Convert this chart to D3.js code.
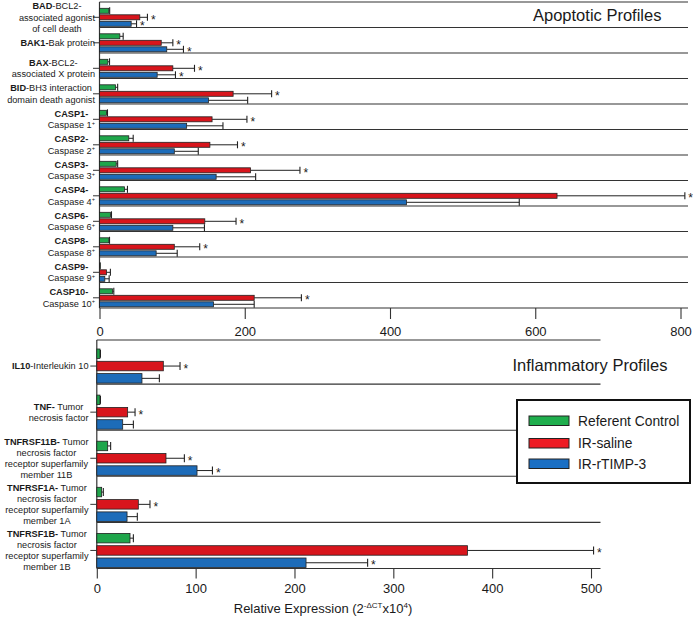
<!DOCTYPE html>
<html>
<head>
<meta charset="utf-8">
<script src="https://cdn.jsdelivr.net/npm/d3@7"></script>
<style>
  html, body { margin: 0; padding: 0; background: #fff; }
  svg { display: block; font-family: "Liberation Sans", Arial, sans-serif; }
</style>
</head>
<body>
<svg id="chart" width="693" height="617"></svg>
<script>
// ---------------- DATA ----------------
const seriesNames = ["Referent Control", "IR-saline", "IR-rTIMP-3"];

// Apoptotic profiles (label lines: "bold|normal", "^" marks superscript +)
const apopLabels = [
  ["BAD|-BCL2-", "|associated agonist", "|of cell death"],
  ["BAK1-|Bak protein"],
  ["BAX|-BCL2-", "|associated X protein"],
  ["BID|-BH3 interaction", "|domain death agonist"],
  ["CASP1-|", "|Caspase 1^"],
  ["CASP2-|", "|Caspase 2^"],
  ["CASP3-|", "|Caspase 3^"],
  ["CASP4-|", "|Caspase 4^"],
  ["CASP6-|", "|Caspase 6^"],
  ["CASP8-|", "|Caspase 8^"],
  ["CASP9-|", "|Caspase 9^"],
  ["CASP10-|", "|Caspase 10^"]
];
const apopControl    = [12.8, 28, 11.5, 22, 9.6, 40.3, 23, 34.4, 15, 12.8, 0.5, 17.9];
const apopControlErr = [1.2, 4.6, 2.3, 3, 1.4, 6.1, 2, 4.1, 1.5, 1, 0.3, 1.8];
const apopSaline     = [55.5, 85, 101, 184, 155, 152, 208, 630, 145, 103, 9.6, 213];
const apopSalineErr  = [10.5, 16, 29.8, 53, 48, 38, 68, 176, 43, 35, 5.4, 65];
const apopTimp       = [43.6, 92.6, 79.4, 150, 120, 103, 160.6, 422.6, 101, 78, 7.3, 157];
const apopTimpErr    = [7.4, 23, 25.2, 54, 50, 33, 54.4, 155.4, 43.5, 29, 6, 56];
const apopSalineSig  = [1, 1, 1, 1, 1, 1, 1, 1, 1, 1, 0, 1];
const apopTimpSig    = [1, 1, 1, 0, 0, 0, 0, 0, 0, 0, 0, 0];
const apopTicks      = [0, 200, 400, 600, 800];

// Inflammatory profiles
const inflLabels = [
  ["IL10|-Interleukin 10"],
  ["TNF-| Tumor", "|necrosis factor"],
  ["TNFRSF11B-| Tumor", "|necrosis factor", "|receptor superfamily", "|member 11B"],
  ["TNFRSF1A-| Tumor", "|necrosis factor", "|receptor superfamily", "|member 1A"],
  ["TNFRSF1B-| Tumor", "|necrosis factor", "|receptor superfamily", "|member 1B"]
];
const inflControl    = [3.2, 3.2, 11, 4.9, 33.6];
const inflControlErr = [0.5, 0.5, 3, 1.7, 3.4];
const inflSaline     = [67.3, 31.2, 70, 42, 375];
const inflSalineErr  = [16.9, 7.5, 18.6, 11.8, 127.6];
const inflTimp       = [45.7, 26.2, 101.4, 30.6, 211.7];
const inflTimpErr    = [17.6, 10.8, 15.6, 10.4, 62.3];
const inflSalineSig  = [1, 1, 1, 1, 1];
const inflTimpSig    = [0, 0, 1, 0, 1];
const inflTicks      = [0, 100, 200, 300, 400, 500];

// ---------------- STYLE ----------------
const barColors    = ["#1fa64b", "#d8151c", "#1d6cb9"];
const legendColors = ["#1fae4d", "#ee1c24", "#1a6fc4"];
const textColor = "#1a1a1a";
const lineColor = "#333";

const svg = d3.select("#chart");

function drawPanel(cfg) {
  const n = cfg.labels.length;
  const x = d3.scaleLinear().domain(cfg.domain).range(cfg.xRange);
  const y = d3.scaleBand().domain(d3.range(n)).range(cfg.yRange).paddingInner(0).paddingOuter(0);
  const g = svg.append("g");
  const x0 = x(0);

  // top frame line
  g.append("line").attr("x1", x0).attr("x2", cfg.lineEnd)
    .attr("y1", cfg.topLine).attr("y2", cfg.topLine)
    .attr("stroke", lineColor).attr("stroke-width", 1.1);

  // row separator lines (bottom of each group)
  g.selectAll("line.sep").data(d3.range(n)).join("line")
    .attr("x1", x0).attr("x2", cfg.lineEnd)
    .attr("y1", i => y(i) + y.bandwidth()).attr("y2", i => y(i) + y.bandwidth())
    .attr("stroke", lineColor).attr("stroke-width", 1.1);

  // left axis line
  g.append("line").attr("x1", x0).attr("x2", x0)
    .attr("y1", cfg.topLine).attr("y2", cfg.yRange[1])
    .attr("stroke", lineColor).attr("stroke-width", 1.2);

  const series = [
    { vals: cfg.control, err: cfg.controlErr, sig: null },
    { vals: cfg.saline, err: cfg.salineErr, sig: cfg.salineSig },
    { vals: cfg.timp, err: cfg.timpErr, sig: cfg.timpSig }
  ];
  const bw = y.bandwidth();
  series.forEach((s, si) => {
    const yOff = i => y(i) + cfg.barOffsets[si];
    const cy = i => yOff(i) + cfg.barH / 2;
    // error whiskers
    g.selectAll(null).data(d3.range(n)).join("line")
      .attr("x1", i => x(s.vals[i])).attr("x2", i => x(s.vals[i] + s.err[i]))
      .attr("y1", cy).attr("y2", cy)
      .attr("stroke", "#222").attr("stroke-width", 1);
    g.selectAll(null).data(d3.range(n)).join("line")
      .attr("x1", i => x(s.vals[i] + s.err[i])).attr("x2", i => x(s.vals[i] + s.err[i]))
      .attr("y1", i => cy(i) - cfg.capH / 2).attr("y2", i => cy(i) + cfg.capH / 2)
      .attr("stroke", "#222").attr("stroke-width", 1.1);
    // bars
    g.selectAll(null).data(d3.range(n)).join("rect")
      .attr("x", x0).attr("y", yOff)
      .attr("width", i => Math.max(0.6, x(s.vals[i]) - x0))
      .attr("height", cfg.barH)
      .attr("fill", barColors[si]).attr("stroke", "#222").attr("stroke-width", 0.8);
    // significance stars
    if (s.sig) {
      g.selectAll(null).data(d3.range(n).filter(i => s.sig[i])).join("text")
        .attr("x", i => x(s.vals[i] + s.err[i]) + cfg.starGap)
        .attr("y", i => cy(i) + cfg.starFont * 0.55)
        .attr("font-size", cfg.starFont).attr("fill", textColor)
        .text("*");
    }
  });

  // category ticks
  g.selectAll(null).data(d3.range(n)).join("line")
    .attr("x1", x0 - 6.5).attr("x2", x0)
    .attr("y1", i => y(i) + cfg.barOffsets[1] + cfg.barH / 2)
    .attr("y2", i => y(i) + cfg.barOffsets[1] + cfg.barH / 2)
    .attr("stroke", lineColor).attr("stroke-width", 1);

  // category labels (center-aligned block, right-aligned at labelRight)
  cfg.labels.forEach((lines, i) => {
    const cyLab = y(i) + cfg.barOffsets[1] + cfg.barH / 2;
    const texts = lines.map((ln, li) => {
      const [b, rest] = ln.split("|");
      const t = g.append("text")
        .attr("font-size", cfg.labelFont).attr("fill", textColor)
        .attr("text-anchor", "middle")
        .attr("y", cyLab + (li - (lines.length - 1) / 2) * cfg.lineH + cfg.labelFont * 0.35);
      if (b) t.append("tspan").attr("font-weight", "bold").text(b);
      if (rest) {
        const hasSup = rest.endsWith("^");
        t.append("tspan").text(hasSup ? rest.slice(0, -1) : rest);
        if (hasSup) t.append("tspan").attr("font-size", cfg.labelFont * 0.62).attr("dy", -cfg.labelFont * 0.35).text("+");
      }
      return t;
    });
    const maxW = d3.max(texts, t => t.node().getComputedTextLength());
    texts.forEach(t => t.attr("x", cfg.labelRight - maxW / 2));
  });

  // x axis
  const axis = d3.axisBottom(x).tickValues(cfg.ticks).tickSize(cfg.tickSize)
    .tickPadding(cfg.tickPad).tickSizeOuter(0).tickFormat(d3.format("d"));
  const ax = g.append("g").attr("transform", `translate(0,${cfg.yRange[1]})`).call(axis);
  ax.select(".domain").remove();
  ax.selectAll(".tick line").attr("stroke", lineColor).attr("stroke-width", 1.1);
  ax.selectAll(".tick text").attr("font-size", 13).attr("fill", textColor)
    .attr("font-family", "Liberation Sans, Arial, sans-serif");

  // title
  g.append("text").attr("x", cfg.titleX).attr("y", cfg.titleY)
    .attr("font-size", 16.5).attr("fill", textColor).text(cfg.title);
}

drawPanel({
  labels: apopLabels,
  control: apopControl, controlErr: apopControlErr,
  saline: apopSaline, salineErr: apopSalineErr, salineSig: apopSalineSig,
  timp: apopTimp, timpErr: apopTimpErr, timpSig: apopTimpSig,
  domain: [0, 800], xRange: [99.5, 680.5], lineEnd: 688,
  yRange: [2, 308], topLine: 2,
  barOffsets: [6.3, 12.8, 19.3], barH: 5, capH: 7,
  starGap: 3.5, starFont: 12,
  labelFont: 9.2, lineH: 11.3, labelRight: 95,
  ticks: apopTicks, tickSize: 11, tickPad: 8,
  title: "Apoptotic Profiles", titleX: 533, titleY: 20.5
});

drawPanel({
  labels: inflLabels,
  control: inflControl, controlErr: inflControlErr,
  saline: inflSaline, salineErr: inflSalineErr, salineSig: inflSalineSig,
  timp: inflTimp, timpErr: inflTimpErr, timpSig: inflTimpSig,
  domain: [0, 500], xRange: [96.8, 591], lineEnd: 600.5,
  yRange: [338, 568.5], topLine: 340,
  barOffsets: [11, 23.3, 35.6], barH: 9.5, capH: 8,
  starGap: 3.5, starFont: 12,
  labelFont: 9.2, lineH: 11, labelRight: 88.5,
  ticks: inflTicks, tickSize: 10, tickPad: 5.5,
  title: "Inflammatory Profiles", titleX: 512.5, titleY: 370.5
});

// axis title with superscripts
const at = svg.append("text").attr("x", 323).attr("y", 613)
  .attr("text-anchor", "middle").attr("font-size", 13).attr("fill", textColor);
at.append("tspan").text("Relative Expression (2");
at.append("tspan").attr("font-size", 8).attr("dy", -5).text("-ΔCT");
at.append("tspan").attr("dy", 5).text("x10");
at.append("tspan").attr("font-size", 8).attr("dy", -5).text("4");
at.append("tspan").attr("dy", 5).text(")");

// legend
const lg = svg.append("g");
lg.append("rect").attr("x", 517).attr("y", 400).attr("width", 173).attr("height", 83)
  .attr("fill", "#fff").attr("stroke", "#111").attr("stroke-width", 2);
const legendY = [416, 438.5, 459];
seriesNames.forEach((name, i) => {
  lg.append("rect").attr("x", 529).attr("y", legendY[i]).attr("width", 40).attr("height", 9.5)
    .attr("fill", legendColors[i]).attr("stroke", "#222").attr("stroke-width", 1);
  lg.append("text").attr("x", 578).attr("y", legendY[i] + 9.5)
    .attr("font-size", 13.8).attr("fill", textColor).text(name);
});
</script>
</body>
</html>
